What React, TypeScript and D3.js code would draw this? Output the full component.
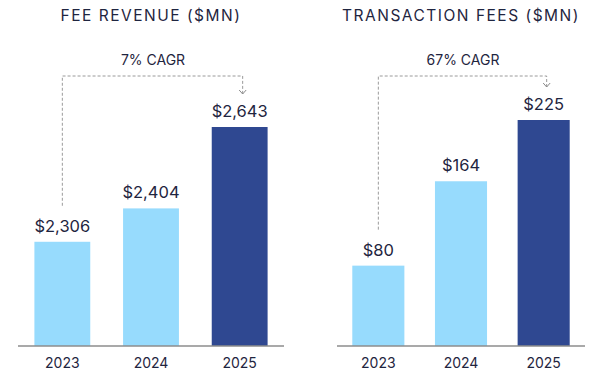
import React from 'react';
import * as d3 from 'd3';

const years = ['2023', '2024', '2025'];
const feeRevenue = [2306, 2404, 2643];
const transactionFees = [80, 164, 225];
const titles = ['FEE REVENUE ($MN)', 'TRANSACTION FEES ($MN)'];
const cagrLabels = ['7% CAGR', '67% CAGR'];

const W = 612;
const H = 385;
const baseline = 346;
const textColor = '#1f2540';
const light = '#97dbfd';
const dark = '#2f4891';

type PanelProps = {
  title: string;
  cagr: string;
  values: number[];
  x0: number;
  x1: number;
  yMin: number;
  topY: number;
};

function Panel({ title, cagr, values, x0, x1, yMin, topY }: PanelProps) {
  const xScale = d3.scaleBand<string>().domain(years).range([x0, x1]).paddingInner(0.37).paddingOuter(0.185);
  const yScale = d3.scaleLinear().domain([yMin, d3.max(values) as number]).range([baseline, topY]);
  const bw = xScale.bandwidth();
  const cx = (i: number) => (xScale(years[i]) as number) + bw / 2;
  const fmt = d3.format(',');
  const mid = (x0 + x1) / 2;

  const firstLabelY = yScale(values[0]) - 16;
  const lastLabelY = yScale(values[2]) - 16;
  const bx0 = cx(0);
  const bx1 = cx(2) + 3;
  const lineY = 76;
  const tipY = lastLabelY - 17;
  const path = `M${bx0},${firstLabelY - 20} L${bx0},${lineY} L${bx1},${lineY} L${bx1},${tipY}`;

  return (
    <g>
      <text x={mid} y={21} textAnchor="middle" fontSize={15.5} letterSpacing={1.5} fill={textColor}>
        {title}
      </text>
      <text x={mid + 2} y={65} textAnchor="middle" fontSize={14} fill={textColor}>
        {cagr}
      </text>
      <path d={path} fill="none" stroke="#9a9a9a" strokeWidth={1} strokeDasharray="3,2" />
      <path d={`M${bx1 - 3.5},${tipY - 4} L${bx1},${tipY} L${bx1 + 3.5},${tipY - 4}`} fill="none" stroke="#8a8a8a" strokeWidth={1} />
      {values.map((v, i) => (
        <g key={i}>
          <rect x={xScale(years[i])} y={yScale(v)} width={bw} height={baseline - yScale(v)} fill={i === 2 ? dark : light} />
          <text x={cx(i)} y={yScale(v) - 10} textAnchor="middle" fontSize={16.5} fill={textColor}>
            {'$' + fmt(v)}
          </text>
          <text x={cx(i)} y={368} textAnchor="middle" fontSize={14} fill={textColor}>
            {years[i]}
          </text>
        </g>
      ))}
      <line x1={x0} x2={x1} y1={baseline} y2={baseline} stroke="#8c8c8c" strokeWidth={1.5} />
    </g>
  );
}

export default function App() {
  return (
    <svg width={W} height={H} style={{ position: 'absolute', left: 0, top: 0, fontFamily: 'Inter, sans-serif', background: '#fff' }}>
      <Panel title={titles[0]} cagr={cagrLabels[0]} values={feeRevenue} x0={18} x1={284} yMin={2000} topY={127} />
      <Panel title={titles[1]} cagr={cagrLabels[1]} values={transactionFees} x0={337} x1={585} yMin={0} topY={120} />
    </svg>
  );
}
